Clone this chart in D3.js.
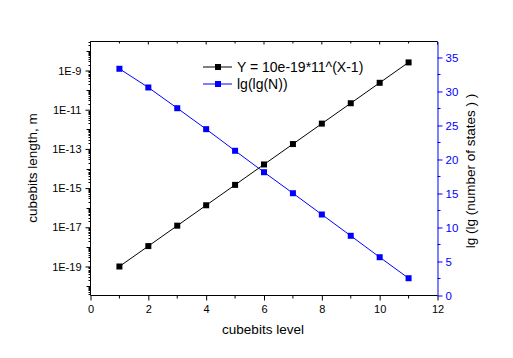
<!DOCTYPE html>
<html><head><meta charset="utf-8">
<script src="https://cdn.jsdelivr.net/npm/d3@7"></script>
<style>body{margin:0;background:#fff}svg{display:block;font-family:"Liberation Sans",Arial,sans-serif}</style>
</head><body><svg id="c" width="513" height="358"></svg>
<script>
const levels = [1,2,3,4,5,6,7,8,9,10,11];
const lengthValues = [1e-19,1.1e-18,1.21e-17,1.33e-16,1.46e-15,1.61e-14,1.77e-13,1.95e-12,2.14e-11,2.36e-10,2.59e-9];
const lglgValues = [33.34,30.59,27.54,24.46,21.28,18.13,15.04,11.91,8.78,5.63,2.54];
const xTicks = [0,2,4,6,8,10,12];
const leftTickExps = [-19,-17,-15,-13,-11,-9];
const rightTicks = [0,5,10,15,20,25,30,35];
const seriesNames = ["Y = 10e-19*11^(X-1)","lg(lg(N))"];

const svg = d3.select("#c");
svg.append("rect").attr("width",513).attr("height",358).attr("fill","#fff");
const L=90.5,R=437.5,T=41.5,B=295.5;
const x = d3.scaleLinear().domain([0,12]).range([L,R]);
const yL = d3.scaleLog().domain([Math.pow(10,-20.48),Math.pow(10,-7.52)]).range([B,T]);
const yR = d3.scaleLinear().domain([0,37.35]).range([B,T]);

// frame
svg.append("line").attr("x1",L).attr("x2",R).attr("y1",T).attr("y2",T).attr("stroke","#000");
svg.append("line").attr("x1",L).attr("x2",R).attr("y1",B).attr("y2",B).attr("stroke","#000");
svg.append("line").attr("x1",L).attr("x2",L).attr("y1",T).attr("y2",B).attr("stroke","#000");

// bottom axis
const xAx = svg.append("g").attr("transform",`translate(0,${B})`)
  .call(d3.axisBottom(x).tickValues(xTicks).tickSize(5).tickSizeOuter(0).tickPadding(5).tickFormat(d3.format("d")));
xAx.select(".domain").remove();
xAx.selectAll("text").attr("font-size",11).attr("fill","#000").attr("font-family","Liberation Sans, Arial");
const xMinor = d3.range(1,12,2);
svg.append("g").selectAll("line").data(xMinor).join("line")
  .attr("x1",d=>x(d)).attr("x2",d=>x(d)).attr("y1",B).attr("y2",B+3).attr("stroke","#000");
// top ticks (inside)
svg.append("g").selectAll("line").data(xTicks.concat(xMinor)).join("line")
  .attr("x1",d=>x(d)).attr("x2",d=>x(d)).attr("y1",T).attr("y2",d=>T+(d%2===0?3:2)).attr("stroke","#000");

// left log axis
const leftAx = svg.append("g").attr("transform",`translate(${L},0)`)
  .call(d3.axisLeft(yL).tickValues(leftTickExps.map(e=>Math.pow(10,e))).tickSize(5).tickSizeOuter(0).tickPadding(4)
    .tickFormat(d=>"1E"+Math.round(Math.log10(d))));
leftAx.select(".domain").remove();
leftAx.selectAll("text").attr("font-size",11).attr("fill","#000").attr("font-family","Liberation Sans, Arial");
const minorL = [];
for (let e=-21;e<=-8;e++){
  for (let k=1;k<=9;k++){
    const v=k*Math.pow(10,e);
    const lv=Math.log10(v);
    if (lv<-20.48||lv>-7.52) continue;
    if (k===1 && leftTickExps.includes(e)) continue;
    minorL.push({v,len:k===1?4:2});
  }
}
svg.append("g").selectAll("line").data(minorL).join("line")
  .attr("x1",L).attr("x2",d=>L-d.len).attr("y1",d=>Math.round(yL(d.v))+0.5).attr("y2",d=>Math.round(yL(d.v))+0.5).attr("stroke","#000");

// right axis (blue)
const rightAx = svg.append("g").attr("transform",`translate(${R},0)`)
  .call(d3.axisRight(yR).tickValues(rightTicks).tickSize(5).tickSizeOuter(0).tickPadding(3));
rightAx.select(".domain").attr("stroke","#0000ff");
rightAx.selectAll(".tick line").attr("stroke","#0000ff");
rightAx.selectAll("text").attr("font-size",11.5).attr("fill","#0000ff").attr("font-family","Liberation Sans, Arial");
svg.append("g").selectAll("line").data(d3.range(2.5,37.5,5)).join("line")
  .attr("x1",R).attr("x2",R+3).attr("y1",d=>yR(d)).attr("y2",d=>yR(d)).attr("stroke","#0000ff");

// axis titles
svg.append("text").attr("x",263).attr("y",334).attr("text-anchor","middle").attr("font-size",13.5).text("cubebits level");
svg.append("text").attr("transform","translate(37,168) rotate(-90)").attr("text-anchor","middle").attr("font-size",13.5).text("cubebits length, m");
svg.append("text").attr("transform","translate(475,171) rotate(-90)").attr("text-anchor","middle").attr("font-size",13.5).text("lg (lg (number of states ) )");

// series
const blackLine = d3.line().x((d,i)=>x(levels[i])).y(d=>yL(d));
const blueLine = d3.line().x((d,i)=>x(levels[i])).y(d=>yR(d));
svg.append("path").attr("d",blueLine(lglgValues)).attr("fill","none").attr("stroke","#0000ff").attr("stroke-width",1);
svg.append("path").attr("d",blackLine(lengthValues)).attr("fill","none").attr("stroke","#000").attr("stroke-width",1);
const ms=6;
svg.append("g").selectAll("rect").data(lengthValues).join("rect")
  .attr("x",(d,i)=>x(levels[i])-ms/2).attr("y",d=>yL(d)-ms/2).attr("width",ms).attr("height",ms).attr("fill","#000");
svg.append("g").selectAll("rect").data(lglgValues).join("rect")
  .attr("x",(d,i)=>x(levels[i])-ms/2).attr("y",d=>yR(d)-ms/2).attr("width",ms).attr("height",ms).attr("fill","#0000ff");

// legend
const leg = [{c:"#000",y:67},{c:"#0000ff",y:84}];
leg.forEach((l,i)=>{
  svg.append("line").attr("x1",203).attr("x2",232).attr("y1",l.y).attr("y2",l.y).attr("stroke",l.c);
  svg.append("rect").attr("x",218-3).attr("y",l.y-3).attr("width",6).attr("height",6).attr("fill",l.c);
  svg.append("text").attr("x",237).attr("y",l.y+5).attr("font-size",14).attr("fill","#000").text(seriesNames[i]);
});
</script></body></html>
